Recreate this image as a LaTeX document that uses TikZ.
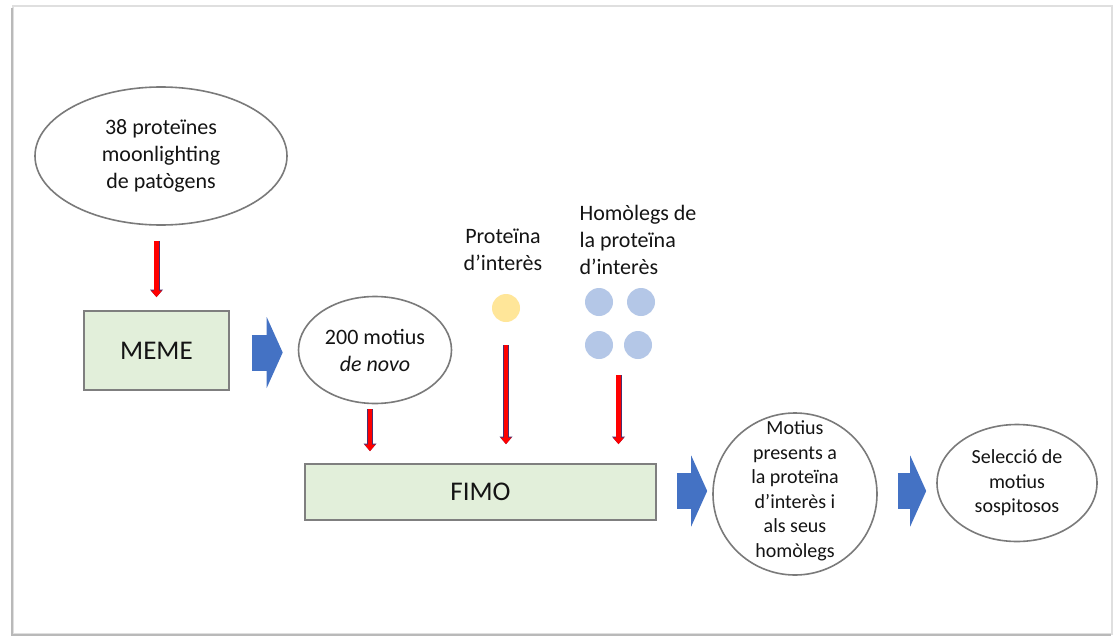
\documentclass[tikz,border=0pt]{standalone}
\usepackage{fontspec}
\setmainfont{Carlito}
\usetikzlibrary{shapes.geometric,arrows.meta,calc}
\definecolor{boxgreen}{HTML}{E2EFDA}
\definecolor{boxline}{HTML}{7F7F7F}
\definecolor{ellline}{HTML}{7A7A7A}
\definecolor{arrblue}{HTML}{4472C4}
\definecolor{dotyellow}{HTML}{FFE699}
\definecolor{dotblue}{HTML}{B4C7E7}
\definecolor{txt}{HTML}{141414}
\definecolor{redline}{HTML}{4A3070}
\begin{document}
\begin{tikzpicture}[x=1pt,y=-1pt,
  every node/.style={text=txt},
  stepbox/.style={draw=boxline, line width=1.8pt, fill=boxgreen, inner sep=0pt,
    font=\fontsize{27}{32}\selectfont},
  oval/.style={ellipse, draw=ellline, line width=1.6pt, inner sep=0pt, align=center},
  big/.style={font=\fontsize{22}{27}\selectfont},
  small/.style={font=\fontsize{20}{24.5}\selectfont},
  dot/.style={circle, inner sep=0pt, minimum size=28pt},
  redarr/.style={draw=red, line width=4.8pt, -{Triangle[width=11pt,length=6.5pt,line width=0pt]},
    preaction={draw=redline, line width=6pt, -{Triangle[width=13pt,length=7.5pt,line width=0pt]}}},
  bluearr/.style={draw=arrblue, line width=36pt, -{Triangle[width=71pt,length=16pt,line width=0pt]}}
]
\useasboundingbox (0,0) rectangle (1114,637);
% frame with shadow
\fill[white] (0,0) rectangle (1114,637);
\draw[gray!25, line width=2pt] (13,6) rectangle (1112,634);
\draw[gray!55, line width=2pt] (12,8) -- (12,635) -- (1111,635);

% nodes
\node[oval, big, minimum width=252pt, minimum height=138pt] (e1) at (161,156)
  {38 proteïnes\\moonlighting\\de patògens};
\node[stepbox, minimum width=145pt, minimum height=79pt] (meme) at (156.5,350.5) {MEME};
\node[oval, big, minimum width=153pt, minimum height=107pt] (e2) at (375,350)
  {200 motius\\\textit{de novo}};
\node[big, align=center, inner sep=0pt] (tprot) at (503,250) {Proteïna\\d’interès};
\node[big, align=left, inner sep=0pt] (thom) at (638,240) {Homòlegs de\\la proteïna\\d’interès};
\node[dot, fill=dotyellow] (pd) at (506,308) {};
\node[dot, fill=dotblue] (h1) at (599,302) {};
\node[dot, fill=dotblue] (h2) at (641,302) {};
\node[dot, fill=dotblue] (h3) at (599,345) {};
\node[dot, fill=dotblue] (h4) at (638,345) {};
\coordinate (hb) at ($(h3.south)!0.5!(h4.south)$);
\node[stepbox, minimum width=351pt, minimum height=56pt] (fimo) at (480.5,492) {FIMO};
\node[oval, minimum width=164pt, minimum height=162pt] (c3) at (795,494) {};
\node[small, align=center, inner sep=0pt] (c3t) at (795,491)
  {Motius\\presents a\\la proteïna\\d’interès i\\als seus\\homòlegs};
\node[oval, small, minimum width=160pt, minimum height=117pt] (e4) at (1017,483)
  {Selecció de\\motius\\sospitosos};

% red arrows
\draw[redarr, shorten <=15pt, shorten >=13pt] (e1.south -| meme.north) -- (meme.north);
\coordinate (e2b) at ($(e2.south)+(-5,0)$);
\draw[redarr, shorten <=5pt, shorten >=12pt] (e2b) -- (e2b |- fimo.north);
\draw[redarr, shorten <=23pt, shorten >=19pt] (pd.south) -- (pd.south |- fimo.north);
\draw[redarr, shorten <=16pt, shorten >=19pt] (hb) -- (hb |- fimo.north);

% blue block arrows
\draw[bluearr, shorten <=22pt, shorten >=15pt] ($(meme.east)+(0,2)$) -- ($(meme.east -| e2.west)+(0,2)$);
\draw[bluearr, shorten <=20pt, shorten >=5pt] ($(fimo.east)+(0,-1)$) -- ($(fimo.east -| c3.west)+(0,-1)$);
\draw[bluearr, shorten <=20pt, shorten >=10pt] ($(c3.east)+(0,-3)$) -- ($(c3.east -| e4.west)+(0,-3)$);
\end{tikzpicture}
\end{document}
